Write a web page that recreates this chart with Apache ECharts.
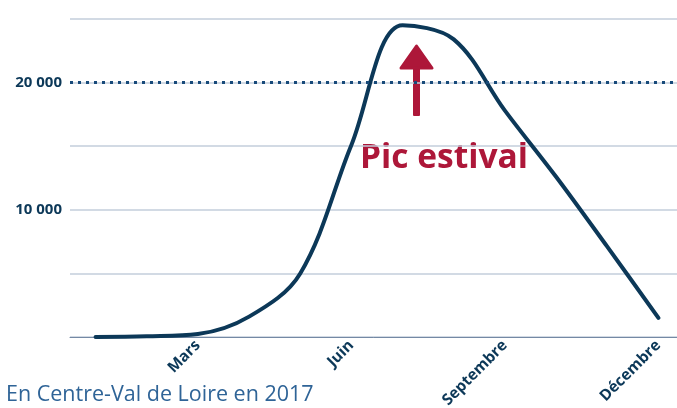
<!DOCTYPE html>
<html>
<head>
<meta charset="utf-8">
<script src="https://cdn.jsdelivr.net/npm/echarts@6/dist/echarts.min.js"></script>
<style>
  html, body { margin: 0; padding: 0; background: #fff; }
  #chart { width: 677px; height: 408px; }
</style>
</head>
<body>
<div id="chart"></div>
<script>
// mois de l'année
const months = ['Janvier', 'Février', 'Mars', 'Avril', 'Mai', 'Juin', 'Juillet', 'Août', 'Septembre', 'Octobre', 'Novembre', 'Décembre'];
// valeurs
const values = [0, 50, 230, 1600, 5000, 15100, 24500, 23400, 17800, 12600, 7100, 1500];
// seuil pointillé
const threshold = [20000];
const shownTicks = [10000, 20000];

const NAVY = '#0c3858';
const RED = '#ad1739';

const chart = echarts.init(document.getElementById('chart'));

chart.setOption({
    animation: false,
    grid: { left: 70, right: -7, top: 19, bottom: 71, containLabel: false, outerBoundsMode: 'none' },
    xAxis: {
        type: 'category',
        data: months,
        boundaryGap: true,
        axisLine: { lineStyle: { color: '#7489a4', width: 1 } },
        axisTick: { show: false },
        axisLabel: {
            interval: (i) => i % 3 === 2,
            rotate: 45,
            margin: 6,
            color: NAVY,
            fontFamily: 'Open Sans',
            fontWeight: 'bold',
            fontSize: 15.5
        }
    },
    yAxis: {
        type: 'value',
        min: 0,
        max: 25000,
        interval: 5000,
        axisLine: { show: false },
        axisTick: { show: false },
        splitLine: { lineStyle: { color: '#c3cedb', width: 1.5 } },
        axisLabel: {
            margin: 8,
            color: NAVY,
            fontFamily: 'Open Sans',
            fontWeight: 'bold',
            fontSize: 15,
            padding: [0, 0, 5, 0],
            formatter: (v) => shownTicks.includes(v) ? String(v).replace(/\B(?=(\d{3})+$)/g, ' ') : ''
        }
    },
    series: [
        {
            type: 'line',
            data: values,
            smooth: 0.35,
            showSymbol: false,
            lineStyle: { color: NAVY, width: 4, cap: 'round' },
            markLine: {
                silent: true,
                symbol: 'none',
                label: { show: false },
                lineStyle: { color: '#174a7a', width: 3, type: [3, 5], cap: 'butt' },
                data: threshold.map(v => ({ yAxis: v }))
            },
            z: 3
        }
    ],
    graphic: [
        // flèche rouge
        {
            type: 'rect',
            shape: { x: 413, y: 62, width: 7, height: 54, r: 1 },
            style: { fill: RED }
        },
        {
            type: 'polygon',
            shape: { points: [[416.5, 46], [432, 68], [401, 68]] },
            style: { fill: RED, stroke: RED, lineWidth: 3, lineJoin: 'round' }
        },
        {
            type: 'text',
            left: 360,
            top: 141,
            style: {
                text: 'Pic estival',
                fill: RED,
                font: 'bold 33.5px "Open Sans"'
            }
        },
        {
            type: 'text',
            left: 6,
            top: 384,
            style: {
                text: 'En Centre-Val de Loire en 2017',
                fill: '#2f6497',
                font: '21.5px "Open Sans"'
            }
        }
    ]
});
</script>
</body>
</html>
